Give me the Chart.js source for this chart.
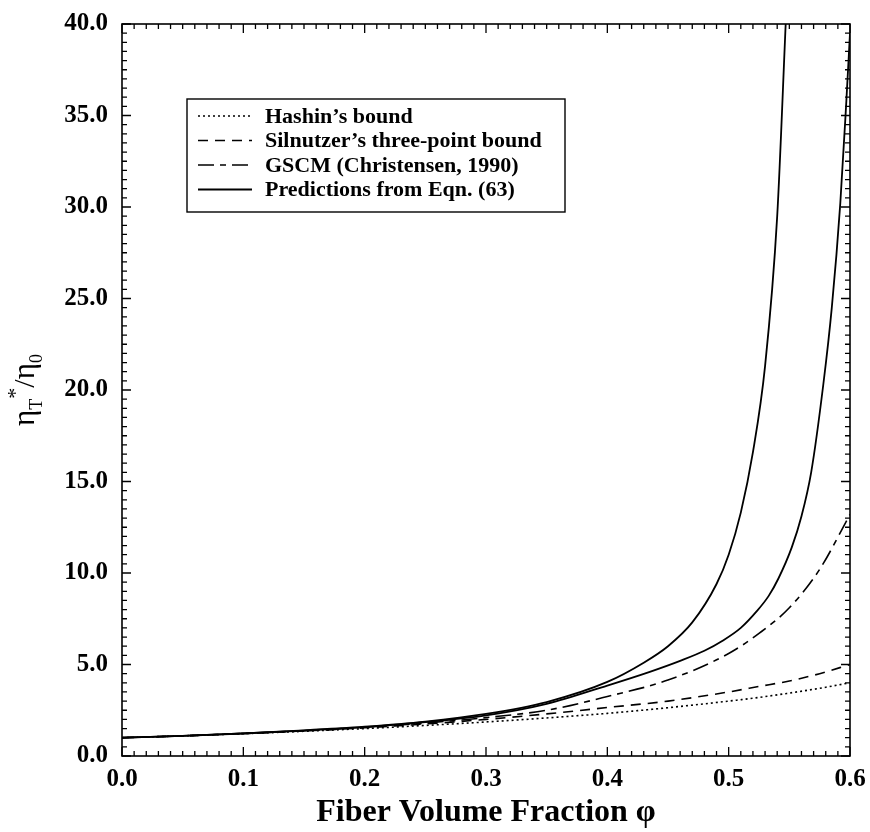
<!DOCTYPE html>
<html>
<head>
<meta charset="utf-8">
<script src="https://cdn.jsdelivr.net/npm/chart.js@4.4.1/dist/chart.umd.min.js"></script>
<style>
  html, body { margin: 0; padding: 0; background: #fff; }
</style>
</head>
<body>
<canvas id="myChart" width="870" height="832"></canvas>
<script>
// values (fiber volume fraction vs. eta_T*/eta_0)
const phiCommon = [0, 0.05, 0.1, 0.15, 0.2, 0.25, 0.3, 0.35, 0.4, 0.45, 0.5, 0.525, 0.55, 0.575, 0.6];
const hashin    = [1.0, 1.1, 1.22, 1.35, 1.5, 1.67, 1.86, 2.08, 2.33, 2.64, 3.0, 3.2, 3.44, 3.7, 4.0];
const silnutzer = [1.0, 1.1, 1.23, 1.37, 1.54, 1.75, 2.0, 2.3, 2.65, 3.0, 3.5, 3.8, 4.1, 4.5, 5.0];
const gscm      = [1.0, 1.1, 1.23, 1.38, 1.57, 1.8, 2.1, 2.5, 3.25, 4.15, 5.6, 6.7, 8.1, 10.2, 13.2];

const phiPredA = [0, 0.05, 0.1, 0.15, 0.2, 0.25, 0.3, 0.35, 0.4, 0.43, 0.45, 0.47, 0.49, 0.5, 0.51, 0.52, 0.53, 0.54, 0.547];
const predA    = [1.0, 1.1, 1.24, 1.4, 1.6, 1.88, 2.3, 2.95, 4.05, 5.1, 6.0, 7.3, 9.4, 11.0, 13.3, 16.6, 21.3, 29.5, 40.0];

const phiPredB = [0, 0.05, 0.1, 0.15, 0.2, 0.25, 0.3, 0.35, 0.4, 0.435, 0.46, 0.48, 0.495, 0.51, 0.523, 0.533, 0.541, 0.552, 0.56, 0.568, 0.578, 0.585, 0.592, 0.597, 0.6];
const predB    = [1.0, 1.1, 1.23, 1.39, 1.58, 1.85, 2.22, 2.85, 3.85, 4.6, 5.2, 5.75, 6.3, 7.0, 7.9, 8.75, 9.7, 11.4, 13.1, 15.5, 20.3, 24.5, 30.2, 35.8, 39.5];

const xTicks = [0, 0.1, 0.2, 0.3, 0.4, 0.5, 0.6];
const yTicks = [0, 5, 10, 15, 20, 25, 30, 35, 40];

function pts(xs, ys) {
    return xs.map((x, i) => ({ x: x, y: ys[i] }));
}

const SERIF = "'Liberation Serif', 'Times New Roman', serif";

// frame, inward ticks on all four sides, boxed legend, y title
const decorations = {
    id: 'decorations',
    afterDraw(chart) {
        const ctx = chart.ctx;
        const a = chart.chartArea;
        const xs = chart.scales.x;
        const ys = chart.scales.y;
        ctx.save();
        ctx.strokeStyle = '#000';
        ctx.lineWidth = 1.6;
        ctx.setLineDash([]);
        ctx.strokeRect(a.left, a.top, a.right - a.left, a.bottom - a.top);

        ctx.lineWidth = 1.3;
        ctx.beginPath();
        for (let i = 0; i <= 60; i++) {
            const px = xs.getPixelForValue(i / 100);
            const len = i % 10 === 0 ? 9 : 5;
            ctx.moveTo(px, a.bottom); ctx.lineTo(px, a.bottom - len);
            ctx.moveTo(px, a.top); ctx.lineTo(px, a.top + len);
        }
        for (let i = 0; i <= 80; i++) {
            const py = ys.getPixelForValue(i / 2);
            const len = i % 10 === 0 ? 9 : 5;
            ctx.moveTo(a.left, py); ctx.lineTo(a.left + len, py);
            ctx.moveTo(a.right, py); ctx.lineTo(a.right - len, py);
        }
        ctx.stroke();

        // legend
        const box = { left: 187, top: 99, right: 565, bottom: 212 };
        ctx.fillStyle = '#fff';
        ctx.fillRect(box.left, box.top, box.right - box.left, box.bottom - box.top);
        ctx.lineWidth = 1.4;
        ctx.strokeRect(box.left, box.top, box.right - box.left, box.bottom - box.top);
        const seen = new Set();
        let row = 0;
        ctx.font = 'bold 22px ' + SERIF;
        ctx.textBaseline = 'middle';
        ctx.fillStyle = '#000';
        chart.data.datasets.forEach(ds => {
            if (seen.has(ds.label)) return;
            seen.add(ds.label);
            const y = 116 + row * 24.5;
            ctx.beginPath();
            ctx.lineWidth = ds.borderWidth;
            ctx.setLineDash(ds.borderDash || []);
            ctx.moveTo(198, y); ctx.lineTo(252, y);
            ctx.stroke();
            ctx.setLineDash([]);
            ctx.fillText(ds.label, 265, y + 1);
            row++;
        });

        // y axis title: eta_T*/eta_0
        ctx.translate(30, (a.top + a.bottom) / 2);
        ctx.rotate(-Math.PI / 2);
        const parts = [
            { t: '\u03B7', size: 31, dy: 0 },
            { t: 'T', size: 18, dy: 8 },
            { t: '*', size: 22, dy: -12 },
            { t: '/', size: 30, dy: 0 },
            { t: '\u03B7', size: 31, dy: 0 },
            { t: '0', size: 18, dy: 8 }
        ];
        let total = 0;
        parts.forEach(p => {
            ctx.font = p.size + 'px ' + SERIF;
            p.w = ctx.measureText(p.t).width;
            total += p.w;
        });
        let x = -total / 2;
        ctx.textBaseline = 'alphabetic';
        ctx.textAlign = 'left';
        parts.forEach(p => {
            ctx.font = p.size + 'px ' + SERIF;
            ctx.fillText(p.t, x, 4 + p.dy);
            x += p.w;
        });
        ctx.restore();
    }
};

const lineBase = {
    showLine: true,
    pointRadius: 0,
    borderColor: '#000',
    backgroundColor: '#000',
    fill: false,
    cubicInterpolationMode: 'monotone'
};

const ctx = document.getElementById('myChart').getContext('2d');
const myChart = new Chart(ctx, {
    type: 'scatter',
    data: {
        datasets: [
            Object.assign({}, lineBase, {
                label: 'Hashin\u2019s bound',
                data: pts(phiCommon, hashin),
                borderWidth: 1.6,
                borderDash: [2, 3]
            }),
            Object.assign({}, lineBase, {
                label: 'Silnutzer\u2019s three-point bound',
                data: pts(phiCommon, silnutzer),
                borderWidth: 1.6,
                borderDash: [10, 7]
            }),
            Object.assign({}, lineBase, {
                label: 'GSCM (Christensen, 1990)',
                data: pts(phiCommon, gscm),
                borderWidth: 1.6,
                borderDash: [16, 6, 6, 6]
            }),
            Object.assign({}, lineBase, {
                label: 'Predictions from Eqn. (63)',
                data: pts(phiPredA, predA),
                borderWidth: 1.8
            }),
            Object.assign({}, lineBase, {
                label: 'Predictions from Eqn. (63)',
                data: pts(phiPredB, predB),
                borderWidth: 1.8
            })
        ]
    },
    options: {
        responsive: false,
        animation: false,
        layout: { padding: { left: 0, top: 24, right: 20, bottom: 0 } },
        plugins: {
            legend: { display: false },
            tooltip: { enabled: false }
        },
        scales: {
            x: {
                type: 'linear',
                min: 0,
                max: 0.6,
                afterFit: s => { s.height = 76; s.paddingLeft = 0; s.paddingRight = 0; },
                afterBuildTicks: s => { s.ticks = xTicks.map(v => ({ value: v })); },
                ticks: {
                    color: '#000',
                    padding: 9,
                    maxRotation: 0,
                    font: { family: SERIF, size: 25, weight: 'bold' },
                    callback: v => v.toFixed(1)
                },
                grid: { display: false, drawTicks: false },
                border: { display: false },
                title: {
                    display: true,
                    text: 'Fiber Volume Fraction \u03C6',
                    color: '#000',
                    font: { family: SERIF, size: 32, weight: 'bold' },
                    padding: { top: 0, bottom: 0 }
                }
            },
            y: {
                type: 'linear',
                min: 0,
                max: 40,
                afterFit: s => { s.width = 122; s.paddingTop = 0; s.paddingBottom = 0; },
                afterBuildTicks: s => { s.ticks = yTicks.map(v => ({ value: v })); },
                ticks: {
                    color: '#000',
                    padding: 14,
                    font: { family: SERIF, size: 25, weight: 'bold' },
                    callback: v => v.toFixed(1)
                },
                grid: { display: false, drawTicks: false },
                border: { display: false }
            }
        }
    },
    plugins: [decorations]
});
</script>
</body>
</html>
